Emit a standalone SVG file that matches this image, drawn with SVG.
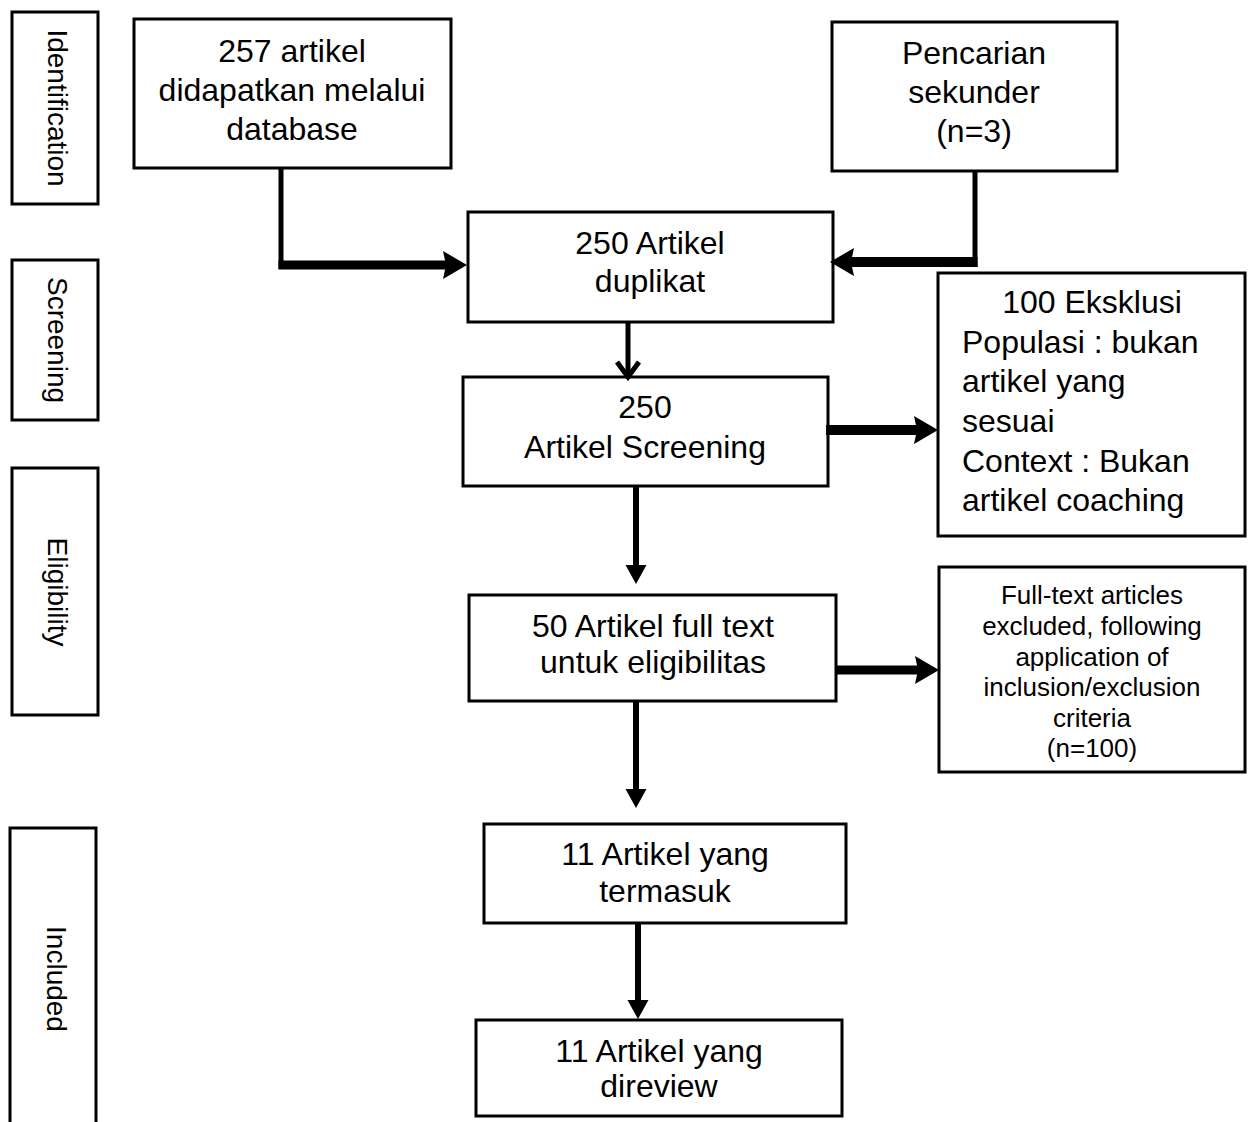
<svg xmlns="http://www.w3.org/2000/svg" width="1250" height="1122" viewBox="0 0 1250 1122">
<style>
.box{fill:#fff;stroke:#000;stroke-width:3}
.t{font-family:"Liberation Sans",Arial,sans-serif;font-size:32px;fill:#000;text-anchor:middle}
.tl{font-family:"Liberation Sans",Arial,sans-serif;font-size:32px;fill:#000}
.ts{font-family:"Liberation Sans",Arial,sans-serif;font-size:26px;fill:#000;text-anchor:middle}
.side{font-family:"Liberation Sans",Arial,sans-serif;font-size:28px;fill:#000;text-anchor:middle}
.c{stroke:#000;fill:none;stroke-linecap:butt}
</style>
<defs>
<marker id="thick" markerUnits="userSpaceOnUse" markerWidth="26" markerHeight="30" refX="3" refY="14" orient="auto">
<path d="M0,0 L24,14 L0,28 L3,14 z" fill="#000"/>
</marker>
<marker id="thin" markerUnits="userSpaceOnUse" markerWidth="22" markerHeight="22" refX="2" refY="10.5" orient="auto">
<path d="M0,0 L19,10.5 L0,21 z" fill="#000"/>
</marker>
<marker id="chev" markerUnits="userSpaceOnUse" markerWidth="30" markerHeight="30" refX="15" refY="15" orient="auto" overflow="visible">
<path d="M0,4 L15,15 L0,26" fill="none" stroke="#000" stroke-width="5" stroke-linejoin="miter"/>
</marker>
</defs>
<rect width="1250" height="1122" fill="#fff"/>

<g id="side-identification">
<rect class="box" x="12" y="12" width="86" height="192"/>
<text class="side" transform="translate(55,108) rotate(90)" x="0" y="7">Identification</text>
</g>
<g id="side-screening">
<rect class="box" x="12" y="260" width="86" height="160"/>
<text class="side" transform="translate(55,340) rotate(90)" x="0" y="7">Screening</text>
</g>
<g id="side-eligibility">
<rect class="box" x="12" y="468" width="86" height="247"/>
<text class="side" transform="translate(55,592) rotate(90)" x="0" y="7">Eligibility</text>
</g>
<g id="side-included">
<rect class="box" x="10" y="828" width="86" height="310"/>
<text class="side" transform="translate(54,979) rotate(90)" x="0" y="7">Included</text>
</g>

<g id="n-database">
<rect class="box" x="134" y="19" width="317" height="149"/>
<text class="t" x="292" y="62">257 artikel</text>
<text class="t" x="292" y="101">didapatkan melalui</text>
<text class="t" x="292" y="140">database</text>
</g>
<g id="n-sekunder">
<rect class="box" x="832" y="22" width="285" height="149"/>
<text class="t" x="974" y="64">Pencarian</text>
<text class="t" x="974" y="103">sekunder</text>
<text class="t" x="974" y="142">(n=3)</text>
</g>
<g id="n-duplikat">
<rect class="box" x="468" y="212" width="365" height="110"/>
<text class="t" x="650" y="254">250 Artikel</text>
<text class="t" x="650" y="292">duplikat</text>
</g>
<g id="n-screening">
<rect class="box" x="463" y="377" width="365" height="109"/>
<text class="t" x="645" y="418">250</text>
<text class="t" x="645" y="458">Artikel Screening</text>
</g>
<g id="n-eksklusi">
<rect class="box" x="938" y="273" width="307" height="263"/>
<text class="t" x="1092" y="313">100 Eksklusi</text>
<text class="tl" x="962" y="353">Populasi : bukan</text>
<text class="tl" x="962" y="392">artikel yang</text>
<text class="tl" x="962" y="432">sesuai</text>
<text class="tl" x="962" y="472">Context : Bukan</text>
<text class="tl" x="962" y="511">artikel coaching</text>
</g>
<g id="n-fulltext">
<rect class="box" x="469" y="595" width="367" height="106"/>
<text class="t" x="653" y="637">50 Artikel full text</text>
<text class="t" x="653" y="673">untuk eligibilitas</text>
</g>
<g id="n-excluded">
<rect class="box" x="939" y="567" width="306" height="205"/>
<text class="ts" x="1092" y="604">Full-text articles</text>
<text class="ts" x="1092" y="635">excluded, following</text>
<text class="ts" x="1092" y="666">application of</text>
<text class="ts" x="1092" y="696">inclusion/exclusion</text>
<text class="ts" x="1092" y="727">criteria</text>
<text class="ts" x="1092" y="757">(n=100)</text>
</g>
<g id="n-termasuk">
<rect class="box" x="484" y="824" width="362" height="99"/>
<text class="t" x="665" y="865">11 Artikel yang</text>
<text class="t" x="665" y="902">termasuk</text>
</g>
<g id="n-direview">
<rect class="box" x="476" y="1020" width="366" height="96"/>
<text class="t" x="659" y="1062">11 Artikel yang</text>
<text class="t" x="659" y="1097">direview</text>
</g>

<g id="connectors">
<line class="c" x1="281" y1="168" x2="281" y2="269" stroke-width="5"/>
<line class="c" x1="278.5" y1="265" x2="446" y2="265" stroke-width="9" marker-end="url(#thick)"/>
<line class="c" x1="975" y1="171" x2="975" y2="267" stroke-width="5"/>
<line class="c" x1="977.5" y1="262" x2="851" y2="262" stroke-width="10" marker-end="url(#thick)"/>
<line class="c" x1="628" y1="322" x2="628" y2="377" stroke-width="5" marker-end="url(#chev)"/>
<line class="c" x1="826" y1="430" x2="917" y2="430" stroke-width="10" marker-end="url(#thick)"/>
<line class="c" x1="636" y1="487" x2="636" y2="567" stroke-width="6" marker-end="url(#thin)"/>
<line class="c" x1="837" y1="670" x2="918" y2="670" stroke-width="9" marker-end="url(#thick)"/>
<line class="c" x1="636" y1="701" x2="636" y2="791" stroke-width="6" marker-end="url(#thin)"/>
<line class="c" x1="638" y1="923" x2="638" y2="1002" stroke-width="6" marker-end="url(#thin)"/>
</g>
</svg>
